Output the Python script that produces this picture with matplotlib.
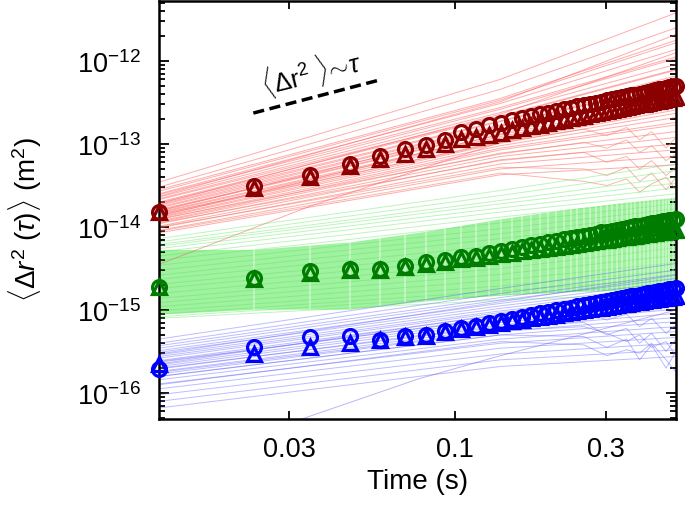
import numpy as np
import matplotlib
matplotlib.use("Agg")
import matplotlib.pyplot as plt
from matplotlib.ticker import FixedLocator, FixedFormatter, LogLocator, NullFormatter, NullLocator, LogFormatterSciNotation

plt.rcParams['font.family'] = ['Liberation Sans', 'DejaVu Sans']
plt.rcParams['mathtext.fontset'] = 'custom'
plt.rcParams['mathtext.rm'] = 'Liberation Sans'
plt.rcParams['mathtext.it'] = 'Liberation Sans:italic'
plt.rcParams['mathtext.bf'] = 'Liberation Sans:bold'

# ---------------- data ----------------
frame_dt = 0.01163                      # s per lag step
lag_index = np.arange(1, 44)            # lag steps 1..43

# ensemble-mean MSD (log10 m^2), circles and triangles
red_circle_log = [-13.819, -13.506, -13.373, -13.241, -13.145, -13.060, -13.012, -12.952, -12.855, -12.819,
                  -12.771, -12.741, -12.713, -12.688, -12.664, -12.642, -12.621, -12.601, -12.583, -12.565,
                  -12.548, -12.533, -12.517, -12.502, -12.488, -12.475, -12.461, -12.449, -12.437, -12.425,
                  -12.415, -12.404, -12.393, -12.382, -12.372, -12.363, -12.353, -12.343, -12.335, -12.327,
                  -12.318, -12.310, -12.301]
red_triangle_log = [-13.819, -13.530, -13.398, -13.265, -13.181, -13.120, -13.060, -13.000, -12.940, -12.916,
                    -12.892, -12.863, -12.835, -12.811, -12.788, -12.766, -12.746, -12.727, -12.708, -12.690,
                    -12.675, -12.659, -12.643, -12.630, -12.616, -12.602, -12.590, -12.578, -12.566, -12.554,
                    -12.543, -12.533, -12.523, -12.512, -12.502, -12.494, -12.484, -12.476, -12.466, -12.458,
                    -12.449, -12.442, -12.434]
green_circle_log = [-14.723, -14.614, -14.530, -14.506, -14.506, -14.470, -14.422, -14.398, -14.361, -14.349,
                    -14.313, -14.287, -14.263, -14.241, -14.220, -14.200, -14.182, -14.165, -14.149, -14.133,
                    -14.119, -14.105, -14.091, -14.079, -14.066, -14.055, -14.043, -14.032, -14.022, -14.012,
                    -14.002, -13.992, -13.983, -13.974, -13.965, -13.957, -13.949, -13.941, -13.933, -13.925,
                    -13.918, -13.910, -13.903]
green_triangle_log = [-14.723, -14.627, -14.554, -14.518, -14.518, -14.482, -14.446, -14.422, -14.386, -14.373,
                      -14.349, -14.329, -14.311, -14.294, -14.278, -14.263, -14.249, -14.236, -14.223, -14.212,
                      -14.200, -14.190, -14.180, -14.170, -14.160, -14.151, -14.143, -14.134, -14.126, -14.118,
                      -14.111, -14.104, -14.097, -14.090, -14.083, -14.077, -14.070, -14.064, -14.058, -14.052,
                      -14.047, -14.041, -14.036]
blue_circle_log = [-15.711, -15.446, -15.325, -15.313, -15.361, -15.313, -15.301, -15.253, -15.217, -15.193,
                   -15.157, -15.130, -15.105, -15.082, -15.061, -15.041, -15.022, -15.005, -14.988, -14.972,
                   -14.957, -14.943, -14.929, -14.916, -14.903, -14.891, -14.879, -14.868, -14.857, -14.847,
                   -14.836, -14.827, -14.817, -14.808, -14.799, -14.790, -14.782, -14.774, -14.766, -14.758,
                   -14.750, -14.743, -14.735]
blue_triangle_log = [-15.651, -15.530, -15.446, -15.398, -15.361, -15.325, -15.313, -15.265, -15.229, -15.205,
                     -15.181, -15.159, -15.138, -15.119, -15.102, -15.085, -15.070, -15.055, -15.041, -15.028,
                     -15.015, -15.003, -14.992, -14.981, -14.971, -14.961, -14.951, -14.942, -14.933, -14.924,
                     -14.915, -14.907, -14.899, -14.892, -14.884, -14.877, -14.870, -14.863, -14.857, -14.850,
                     -14.844, -14.838, -14.832]

# individual trajectories (log10 m^2) sampled at lag steps below
smooth_steps = [1, 12, 43]
noisy_steps = [1, 12, 22, 26, 30, 33, 36, 40, 43]

red_smooth = [
    (-13.46, -12.22, -11.42), (-13.52, -12.34, -11.60), (-13.55, -12.45, -11.75), (-13.57, -12.47, -11.78),
    (-13.60, -12.51, -11.86), (-13.61, -12.56, -11.95), (-13.64, -12.58, -11.97), (-13.66, -12.62, -12.04),
    (-13.67, -12.66, -12.10), (-13.70, -12.67, -12.11), (-13.71, -12.72, -12.18), (-13.73, -12.73, -12.21),
    (-13.74, -12.77, -12.26), (-13.76, -12.78, -12.27), (-13.77, -12.82, -12.34), (-13.79, -12.84, -12.37),
    (-13.80, -12.85, -12.39), (-13.82, -12.89, -12.45), (-13.83, -12.91, -12.50), (-13.85, -12.93, -12.52),
    (-13.86, -12.97, -12.59), (-13.88, -12.99, -12.63), (-13.89, -13.02, -12.68), (-13.91, -13.05, -12.74),
    (-13.93, -13.07, -12.77), (-13.94, -13.11, -12.85), (-13.96, -13.15, -12.92), (-13.99, -13.19, -13.00),
    (-14.01, -13.24, -13.07), (-14.04, -13.30, -13.15), (-14.07, -13.37, -13.25), (-13.72, -12.64, -11.90),
    (-13.81, -12.79, -12.20), (-13.63, -12.49, -11.68), (-13.87, -12.88, -12.33),
]
red_noisy = [
    (-13.95, -13.20, -13.10, -13.22, -13.15, -13.30, -13.20, -13.38, -13.28),
    (-14.00, -13.28, -13.30, -13.38, -13.28, -13.45, -13.35, -13.55, -13.40),
    (-13.90, -13.12, -12.98, -13.05, -12.95, -13.10, -13.02, -13.20, -13.12),
    (-14.05, -13.35, -13.45, -13.50, -13.42, -13.58, -13.48, -13.40, -13.55),
    (-13.84, -12.98, -12.82, -12.90, -12.80, -12.95, -12.85, -13.05, -12.92),
]
red_outlier_steps = [1, 3, 12, 43]
red_outlier = [-14.45, -13.75, -12.98, -12.45]

green_band_steps = [1, 2, 4, 7, 12, 20, 30, 43]
green_band_hi = [-14.27, -14.27, -14.18, -14.05, -13.90, -13.78, -13.70, -13.64]
green_band_lo = [-15.05, -14.99, -14.99, -14.89, -14.82, -14.78, -14.76, -14.75]
green_smooth = [
    (-14.14, -13.56, -13.24), (-14.18, -13.62, -13.32), (-14.21, -13.68, -13.40), (-14.23, -13.72, -13.47),
    (-14.26, -13.77, -13.53), (-14.30, -13.82, -13.60), (-14.35, -13.88, -13.66), (-14.40, -13.95, -13.72),
    (-14.46, -14.02, -13.78), (-14.52, -14.08, -13.84), (-14.58, -14.14, -13.90), (-14.63, -14.22, -13.96),
    (-14.69, -14.29, -14.02), (-14.74, -14.36, -14.09), (-14.80, -14.43, -14.17), (-14.86, -14.50, -14.25),
    (-14.91, -14.57, -14.34), (-14.96, -14.64, -14.43), (-15.01, -14.71, -14.52), (-15.05, -14.77, -14.62),
    (-15.08, -14.82, -14.70), (-15.10, -14.88, -14.80),
]

blue_smooth = [
    (-15.35, -14.74, -14.44), (-15.40, -14.80, -14.52), (-15.43, -14.85, -14.57), (-15.46, -14.88, -14.62),
    (-15.49, -14.92, -14.66), (-15.51, -14.95, -14.70), (-15.54, -14.98, -14.73), (-15.56, -15.01, -14.77),
    (-15.58, -15.03, -14.80), (-15.61, -15.06, -14.84), (-15.63, -15.09, -14.87), (-15.66, -15.12, -14.91),
    (-15.68, -15.15, -14.95), (-15.71, -15.18, -14.99), (-15.74, -15.22, -15.04), (-15.77, -15.26, -15.09),
    (-15.80, -15.30, -15.14), (-15.84, -15.35, -15.20), (-15.89, -15.40, -15.26), (-15.95, -15.46, -15.33),
    (-16.02, -15.53, -15.40), (-16.10, -15.60, -15.48), (-16.18, -15.68, -15.56), (-15.53, -14.90, -14.58),
    (-15.65, -15.05, -14.76),
]
blue_noisy = [
    (-15.70, -15.20, -15.15, -15.30, -15.22, -15.40, -15.28, -15.50, -15.35),
    (-15.80, -15.30, -15.32, -15.45, -15.35, -15.60, -15.42, -15.70, -15.50),
    (-15.62, -15.10, -15.02, -15.12, -15.05, -15.20, -15.10, -15.28, -15.18),
    (-15.90, -15.38, -15.42, -15.55, -15.48, -15.52, -15.40, -15.60, -15.75),
    (-15.75, -15.25, -15.20, -15.28, -15.38, -15.30, -15.45, -15.38, -15.55),
]
blue_outlier_steps = [2.84, 6.6, 12, 43]
blue_outlier = [-16.31, -15.83, -15.55, -15.00]

# slope-1 guide
guide_t = [0.0231, 0.0572]
guide_msd = [2.36e-13, 5.84e-13]
guide_label = r'$\langle\Delta\mathrm{r}^2\ \rangle\!\sim\!\tau$'

x_ticks = [0.03, 0.1, 0.3]
x_tick_labels = ['0.03', '0.1', '0.3']
y_ticks = [1e-16, 1e-15, 1e-14, 1e-13, 1e-12]

# ---------------- plot ----------------
fig = plt.figure(figsize=(6.85, 5.06), dpi=100)
ax = fig.add_axes([159 / 685, 1 - 420 / 506, 517 / 685, 418 / 506])
ax.set_xscale('log')
ax.set_yscale('log')
ax.set_xlim(frame_dt, 43 * frame_dt)
ax.set_ylim(10 ** -16.313, 10 ** -11.277)

t = lag_index * frame_dt

def steps_to_t(steps):
    return np.asarray(steps, dtype=float) * frame_dt

trace_kw = dict(lw=0.7, solid_joinstyle='round')
for tr in red_smooth:
    ax.plot(steps_to_t(smooth_steps), 10.0 ** np.array(tr), color=(1.0, 0.35, 0.35), alpha=0.5, **trace_kw)
for tr in red_noisy:
    ax.plot(steps_to_t(noisy_steps), 10.0 ** np.array(tr), color=(0.95, 0.5, 0.4), alpha=0.55, **trace_kw)
ax.plot(steps_to_t(red_outlier_steps), 10.0 ** np.array(red_outlier), color=(1.0, 0.35, 0.35), alpha=0.5, **trace_kw)

band = ax.fill_between(steps_to_t(green_band_steps), 10.0 ** np.array(green_band_lo), 10.0 ** np.array(green_band_hi),
                       color=(0.5, 0.93, 0.5), alpha=0.75, lw=0)
for tr in green_smooth:
    ax.plot(steps_to_t(smooth_steps), 10.0 ** np.array(tr), color=(0.35, 0.9, 0.35), alpha=0.4, **trace_kw)
# light vertical stripes at every lag step inside the dense green band
stripes = ax.vlines(t, 10 ** -15.2, 10 ** -13.5, colors='white', lw=1.2, alpha=0.45)
stripes.set_clip_path(band.get_paths()[0], band.get_transform())

for tr in blue_smooth:
    ax.plot(steps_to_t(smooth_steps), 10.0 ** np.array(tr), color=(0.35, 0.35, 1.0), alpha=0.4, **trace_kw)
for tr in blue_noisy:
    ax.plot(steps_to_t(noisy_steps), 10.0 ** np.array(tr), color=(0.4, 0.4, 1.0), alpha=0.45, **trace_kw)
ax.plot(steps_to_t(blue_outlier_steps), 10.0 ** np.array(blue_outlier), color=(0.45, 0.35, 0.9), alpha=0.45, **trace_kw)

mk = dict(ls='none', mfc='none', mew=2.3, ms=10, clip_on=False, zorder=5)
for circ, tri, col in [(red_circle_log, red_triangle_log, '#8b0000'),
                       (green_circle_log, green_triangle_log, '#007d00'),
                       (blue_circle_log, blue_triangle_log, '#0000ff')]:
    ax.plot(t, 10.0 ** np.array(circ), marker='o', mec=col, **mk)
    ax.plot(t, 10.0 ** np.array(tri), marker='^', mec=col, **mk)

ax.plot(guide_t, guide_msd, color='black', lw=2.5, dashes=(3.2, 1.6))
ax.text(0.0352, 7.5e-13, guide_label, fontsize=18.5, rotation=14, ha='center', va='center',
        rotation_mode='anchor')

ax.xaxis.set_major_locator(FixedLocator(x_ticks))
ax.xaxis.set_major_formatter(FixedFormatter(x_tick_labels))
ax.xaxis.set_minor_locator(NullLocator())
ax.yaxis.set_major_locator(FixedLocator(y_ticks))
ax.yaxis.set_major_formatter(LogFormatterSciNotation())
ax.yaxis.set_minor_locator(LogLocator(base=10, subs=np.arange(2, 10)))
ax.yaxis.set_minor_formatter(NullFormatter())

ax.tick_params(which='both', direction='in', top=True, right=True, width=1.3, labelsize=19.5)
ax.tick_params(axis='y', which='major', length=7, pad=13)
ax.tick_params(axis='y', which='minor', length=4)
ax.tick_params(axis='x', which='major', length=6, pad=12)
for s in ax.spines.values():
    s.set_linewidth(1.8)

ax.set_xlabel('Time (s)', fontsize=20)
ax.xaxis.set_label_coords(0.5, -0.118)
ax.set_ylabel(r'$\langle\Delta r^2\ (\tau)\rangle$ (m$^2$)', fontsize=20)
ax.yaxis.set_label_coords(-0.222, 0.48)

fig.savefig('out.png', dpi=100)
